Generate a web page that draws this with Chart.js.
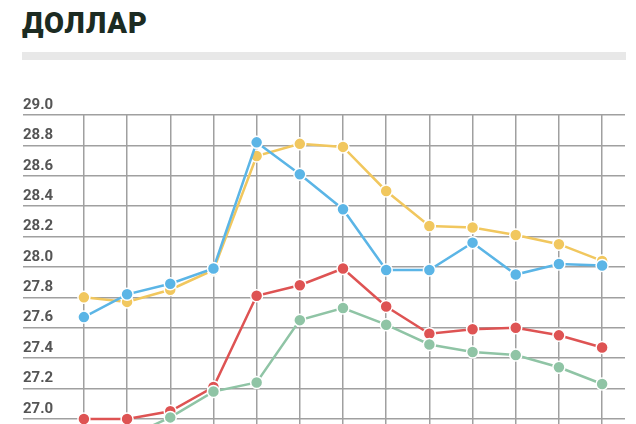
<!DOCTYPE html>
<html lang="ru">
<head>
<meta charset="UTF-8">
<title>Доллар</title>
<style>
    body { margin: 0; background: #fff; font-family: Roboto, Arial, sans-serif; }
    #wrap { position: relative; width: 636px; height: 424px; overflow: hidden; }
    h1 { position: absolute; left: 22px; top: 6px; margin: 0; font-size: 29px; font-weight: 900; color: #1c2b22; letter-spacing: 0.8px; }
    #bar { position: absolute; left: 22px; top: 52px; width: 604px; height: 8px; background: #e8e8e8; }
    canvas { position: absolute; left: 0; top: 0; }
</style>
</head>
<body>
<div id="wrap">
    <h1>ДОЛЛАР</h1>
    <div id="bar"></div>
    <canvas id="c" width="636" height="434"></canvas>
</div>
<script src="https://cdn.jsdelivr.net/npm/chart.js"></script>
<script>
const yTicks = [27.0, 27.2, 27.4, 27.6, 27.8, 28.0, 28.2, 28.4, 28.6, 28.8, 29.0];
const yellow = [27.80, 27.77, 27.85, 27.98, 28.73, 28.81, 28.79, 28.50, 28.27, 28.26, 28.21, 28.15, 28.04];
const blue   = [27.67, 27.82, 27.89, 27.99, 28.82, 28.61, 28.38, 27.98, 27.98, 28.16, 27.95, 28.02, 28.01];
const red    = [27.00, 27.00, 27.05, 27.21, 27.81, 27.88, 27.99, 27.74, 27.56, 27.59, 27.60, 27.55, 27.47];
const green  = [26.85, 26.88, 27.01, 27.18, 27.24, 27.65, 27.73, 27.62, 27.49, 27.44, 27.42, 27.34, 27.23];

function ds(values, color) {
    return {
        data: values.map((v, i) => ({ x: i, y: v })),
        borderColor: color,
        backgroundColor: color,
        borderWidth: 2.5,
        pointRadius: 6,
        pointBorderColor: '#fff',
        pointBorderWidth: 1.5,
        tension: 0
    };
}

new Chart(document.getElementById('c'), {
    type: 'line',
    data: {
        datasets: [ds(green, '#8fc4a5'), ds(red, '#de5353'), ds(blue, '#5bb5e6'), ds(yellow, '#f1c75e')]
    },
    options: {
        responsive: false,
        animation: false,
        layout: { padding: { top: 115, left: 23, right: 11, bottom: 0 } },
        plugins: { legend: { display: false }, tooltip: { enabled: false } },
        scales: {
            x: {
                type: 'linear', min: -1.41, max: 12.53,
                afterBuildTicks: s => { s.ticks = yellow.map((v, i) => ({ value: i })); },
                grid: { color: '#a0a0a0', lineWidth: 1.5, drawTicks: false },
                border: { display: false },
                ticks: { display: false }
            },
            y: {
                min: 26.96, max: 29.0,
                afterBuildTicks: s => { s.ticks = yTicks.map(v => ({ value: v })); },
                grid: { color: '#a0a0a0', lineWidth: 1.5, drawTicks: false },
                border: { display: false },
                ticks: {
                    mirror: true, padding: 0, labelOffset: -10,
                    color: '#555', font: { family: 'Roboto', size: 15, weight: 'bold' },
                    callback: v => v.toFixed(1)
                }
            }
        }
    }
});
</script>
</body>
</html>
